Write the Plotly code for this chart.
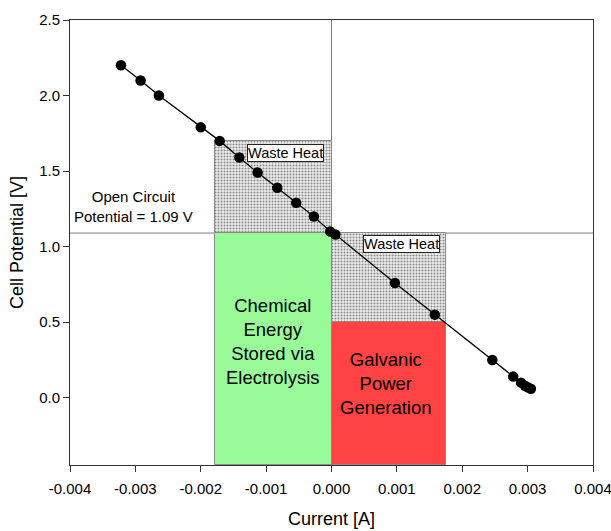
import plotly.graph_objects as go

# ---- data ----
current_A = [-0.00322, -0.00292, -0.00264, -0.00200, -0.00171, -0.00141, -0.00113,
             -0.00083, -0.00054, -0.00027, -0.00002, 0.00006, 0.00097, 0.00158,
             0.00246, 0.00278, 0.00290, 0.00296, 0.00300, 0.00305]
potential_V = [2.20, 2.10, 2.00, 1.79, 1.70, 1.59, 1.49,
               1.39, 1.29, 1.20, 1.10, 1.08, 0.76, 0.55,
               0.25, 0.14, 0.10, 0.08, 0.07, 0.06]

open_circuit_V = 1.09
electrolysis_I = -0.00178      # left edge of electrolysis region
electrolysis_top_V = 1.70      # top of electrolysis waste-heat region
galvanic_I = 0.00175           # right edge of galvanic region
galvanic_V = 0.50              # operating potential of galvanic region

x_range = [-0.004, 0.004]
y_range = [-0.445, 2.5]
x_ticks = [-0.004, -0.003, -0.002, -0.001, 0.0, 0.001, 0.002, 0.003, 0.004]
x_tick_labels = ["-0.004", "-0.003", "-0.002", "-0.001", "0.000",
                 "0.001", "0.002", "0.003", "0.004"]
y_ticks = [0.0, 0.5, 1.0, 1.5, 2.0, 2.5]
y_tick_labels = ["0.0", "0.5", "1.0", "1.5", "2.0", "2.5"]

FONT = "Liberation Sans, Arial, sans-serif"

fig = go.Figure()

def region(x0, x1, y0, y1, color=None, pattern=False):
    kw = dict(
        x=[(x0 + x1) / 2], width=[x1 - x0], base=[y0], y=[y1 - y0],
        showlegend=False, hoverinfo="skip",
    )
    if pattern:
        marker = dict(color="white", line=dict(color="#8a8a8a", width=1),
                      pattern=dict(shape=".", fgcolor="#2a2a2a", bgcolor="#eeeeee",
                                   size=3, solidity=0.4))
    else:
        marker = dict(color=color, line=dict(color="#8a8a8a", width=1))
    fig.add_trace(go.Bar(marker=marker, **kw))

# green: chemical energy stored via electrolysis
region(electrolysis_I, 0.0, y_range[0], open_circuit_V, color="#99FB98")
# red: galvanic power generation
region(0.0, galvanic_I, y_range[0], galvanic_V, color="#FF4242")
# stippled waste-heat regions
region(electrolysis_I, 0.0, open_circuit_V, electrolysis_top_V, pattern=True)
region(0.0, galvanic_I, galvanic_V, open_circuit_V, pattern=True)

# data line and points
fig.add_trace(go.Scatter(
    x=current_A, y=potential_V, mode="lines+markers",
    line=dict(color="black", width=1.3),
    marker=dict(color="black", size=10.5),
    showlegend=False, hoverinfo="skip",
))

# reference lines
fig.add_hline(y=open_circuit_V, line=dict(color="#7a7a7a", width=1), layer="below")
fig.add_vline(x=0.0, line=dict(color="#7a7a7a", width=1), layer="below")

ann_font = dict(family=FONT, color="black")
fig.add_annotation(x=-0.000705, y=1.623, text="Waste Heat", showarrow=False,
                   font=dict(size=14.5, **ann_font), bgcolor="white",
                   bordercolor="#222", borderwidth=1, borderpad=0)
fig.add_annotation(x=0.001065, y=1.015, text="Waste Heat", showarrow=False,
                   font=dict(size=14.5, **ann_font), bgcolor="white",
                   bordercolor="#222", borderwidth=1, borderpad=0)
fig.add_annotation(x=-0.00303, y=1.265, text="Open Circuit<br>Potential = 1.09 V",
                   showarrow=False, font=dict(size=15, **ann_font))
fig.add_annotation(x=(electrolysis_I) / 2, y=0.37,
                   text="Chemical<br>Energy<br>Stored via<br>Electrolysis",
                   showarrow=False, font=dict(size=18.5, **ann_font))
fig.add_annotation(x=0.00084, y=0.095, text="Galvanic<br>Power<br>Generation",
                   showarrow=False, font=dict(size=18.5, **ann_font))

fig.update_layout(
    width=611, height=531,
    margin=dict(l=70, r=18, t=20, b=66),
    paper_bgcolor="white", plot_bgcolor="white",
    barmode="overlay", bargap=0,
    font=dict(family=FONT, size=15, color="black"),
    xaxis=dict(range=x_range, tickvals=x_ticks, ticktext=x_tick_labels,
               ticklabeloverflow="allow", ticklabelstandoff=4, automargin=False,
               showgrid=False, zeroline=False, showline=True, mirror=True,
               linecolor="#333", linewidth=1, ticks="outside", ticklen=6,
               tickcolor="#333",
               title=dict(text="Current [A]", font=dict(size=18), standoff=16)),
    yaxis=dict(range=y_range, tickvals=y_ticks, ticktext=y_tick_labels,
               automargin=False,
               showgrid=False, zeroline=False, showline=True, mirror=True,
               linecolor="#333", linewidth=1, ticks="outside", ticklen=6,
               tickcolor="#333",
               title=dict(text="Cell Potential [V]", font=dict(size=18), standoff=10)),
)

fig.write_html("out.html")
